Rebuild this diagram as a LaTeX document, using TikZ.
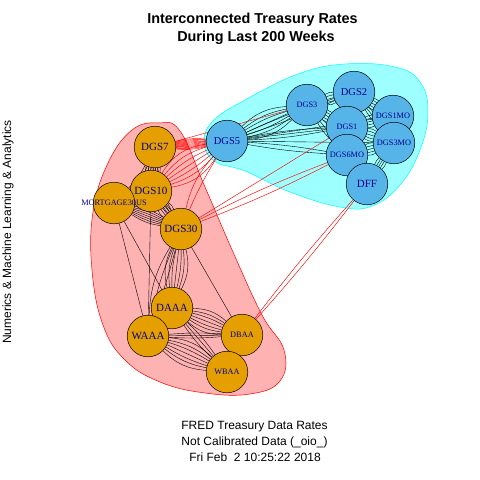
\documentclass[tikz,border=0pt]{standalone}
\usepackage{fontspec}
\setmainfont{Liberation Serif}
\newfontfamily\hv{Liberation Sans}
\definecolor{gold}{HTML}{E69F00}
\definecolor{sky}{HTML}{56B4E9}
\definecolor{lab}{HTML}{00008B}
\definecolor{cy}{RGB}{0,255,255}
\definecolor{rd}{RGB}{255,0,0}
\pgfdeclarelayer{hull}
\pgfdeclarelayer{edges}
\pgfsetlayers{hull,edges,main}
\newcommand\bnd[4]{\foreach \bb in {#3}{\draw[#4] (#1) to[bend left=\bb] (#2);}}
\tikzset{
  vtx/.style={circle, draw=black, line width=0.5pt, minimum size=41.6pt, inner sep=0pt, text=lab},
  gv/.style={vtx, fill=gold},
  bv/.style={vtx, fill=sky},
  big/.style={font=\fontsize{11}{12}\selectfont},
  mid/.style={font=\fontsize{10.5}{12}\selectfont},
  sml/.style={font=\fontsize{8.3}{10}\selectfont},
  ke/.style={draw=black, line width=0.4pt},
  re/.style={draw=rd, line width=0.45pt},
  ttl/.style={font=\hv\bfseries\fontsize{14.4}{17}\selectfont},
  sub/.style={font=\hv\fontsize{12}{14}\selectfont},
}
\begin{document}
\begin{tikzpicture}[x=1pt,y=-1pt]
\useasboundingbox (0,0) rectangle (480,480);
% vertices
\node[gv,big] (DGS7) at (155,147) {DGS7};
\node[gv,big] (DGS10) at (151,191) {DGS10};
\node[gv,sml,text width=0pt,align=center] (MORT) at (114,203) {\makebox[0pt]{MORTGAGE30US}};
\node[gv,big] (DGS30) at (181,229) {DGS30};
\node[gv,big] (DAAA) at (172,308) {DAAA};
\node[gv,big] (WAAA) at (148,336) {WAAA};
\node[gv,sml] (DBAA) at (242,335) {DBAA};
\node[gv,sml] (WBAA) at (227,372) {WBAA};
\node[bv,mid] (DGS5) at (227,141) {DGS5};
\node[bv,sml] (DGS3) at (307,105) {DGS3};
\node[bv,mid] (DGS2) at (354,92) {DGS2};
\node[bv,sml] (DGS1MO) at (393,116) {DGS1MO};
\node[bv,sml] (DGS1) at (347,127) {DGS1};
\node[bv,sml] (DGS3MO) at (394,143) {DGS3MO};
\node[bv,sml] (DGS6MO) at (347,155) {DGS6MO};
\node[bv,big] (DFF) at (367,184) {DFF};
% hulls
\begin{pgfonlayer}{hull}
\draw[rd, line width=0.5pt, fill=rd!30] plot[smooth cycle, tension=0.7] coordinates {(158,123) (180,131) (205,187) (233,252) (262,315) (284,350) (280,381) (250,394) (205,393) (160,382) (125,360) (103,325) (92,270) (93,212) (108,163) (132,130)};
\draw[cy, line width=0.5pt, fill=cy!38] plot[smooth cycle, tension=0.7] coordinates {(204,141) (214,120) (245,100) (298,74) (345,64) (395,67) (420,82) (428,112) (420,150) (400,185) (372,206) (340,207) (290,192) (245,171) (214,161)};
\end{pgfonlayer}
% edges
\begin{pgfonlayer}{edges}
% red group
\bnd{DGS7}{DGS10}{-20,-12,-6,0,6,12,20}{ke}
\bnd{DGS10}{MORT}{-18,-10,-4,4,10,18}{ke}
\bnd{DGS10}{DGS30}{-18,-10,-4,4,10,18}{ke}
\bnd{DGS7}{MORT}{8,14,20,26}{ke}
\bnd{DGS7}{DGS30}{-10,-16,-22}{ke}
\bnd{MORT}{DGS30}{-12,-8,-4,0,4,8,12}{ke}
\bnd{DGS30}{DAAA}{-20,-13,-7,0,7,13,20}{ke}
\bnd{DGS30}{WAAA}{-14,-6,2}{ke}
\bnd{DGS10}{WAAA}{0}{ke}
\bnd{MORT}{WAAA}{0}{ke}
\bnd{MORT}{DAAA}{0}{ke}
\bnd{DGS30}{DBAA}{0}{ke}
\bnd{DAAA}{DBAA}{-20,-13,-7,0,7,13,20}{ke}
\bnd{WAAA}{WBAA}{-20,-13,-7,0,7,13,20}{ke}
\bnd{WAAA}{DBAA}{-4,0,4}{ke}
\bnd{DAAA}{WBAA}{-6,0,6}{ke}
\bnd{WAAA}{DAAA}{-10,0,10}{ke}
\bnd{DBAA}{WBAA}{0}{ke}
% blue group
\bnd{DGS5}{DGS3}{-20,-13,-7,0,7,13,20}{ke}
\bnd{DGS5}{DGS2}{-3,3}{ke}
\bnd{DGS5}{DGS1}{-4,0,4}{ke}
\bnd{DGS5}{DGS1MO}{0}{ke}
\bnd{DGS5}{DGS3MO}{0}{ke}
\bnd{DGS5}{DGS6MO}{-3,3}{ke}
\bnd{DGS3}{DGS2}{-15,-8,0,8,15}{ke}
\bnd{DGS3}{DGS1}{-15,-8,0,8,15}{ke}
\bnd{DGS3}{DGS6MO}{-8,0,8}{ke}
\bnd{DGS2}{DGS1MO}{-15,-8,0,8,15}{ke}
\bnd{DGS2}{DGS1}{-10,0,10}{ke}
\bnd{DGS1}{DGS1MO}{-15,-8,0,8,15}{ke}
\bnd{DGS1}{DGS3MO}{-15,-8,0,8,15}{ke}
\bnd{DGS1}{DGS6MO}{-10,0,10}{ke}
\bnd{DGS6MO}{DGS3MO}{-15,-8,0,8,15}{ke}
\bnd{DGS6MO}{DFF}{-10,0,10}{ke}
\bnd{DGS3MO}{DFF}{-12,-6,0,6,12}{ke}
\bnd{DGS1MO}{DGS3MO}{-10,0,10}{ke}
\bnd{DGS2}{DGS3MO}{-6,0,6}{ke}
% between groups
\bnd{DGS5}{DGS7}{-10,-8,-6,-4,-2,0,2,4,6,8,10}{re}
\bnd{DGS5}{DGS10}{-25,-17,-9,-1,7,15,23}{re}
\bnd{DGS5}{DGS30}{-14,-4}{re}
\bnd{DGS7}{DGS3}{0}{re}
\bnd{DGS30}{DGS1}{0}{re}
\bnd{DGS30}{DGS6MO}{-3,3}{re}
\bnd{DFF}{DBAA}{-2,2}{re}
\end{pgfonlayer}
% texts
\node[ttl] (t1) at (252.5,20) {Interconnected Treasury Rates};
\node[ttl] (t2) at (256,38) {During Last 200 Weeks};
\node[sub] (b1) at (254.5,427) {FRED Treasury Data Rates};
\node[sub] (b2) at (254.5,442) {Not Calibrated Data (\_oio\_)};
\node[sub] (b3) at (255,457) {Fri Feb\ \ 2 10:25:22 2018};
\node[sub, rotate=90] (yl) at (8,232) {Numerics \& Machine Learning \& Analytics};
\end{tikzpicture}
\end{document}
